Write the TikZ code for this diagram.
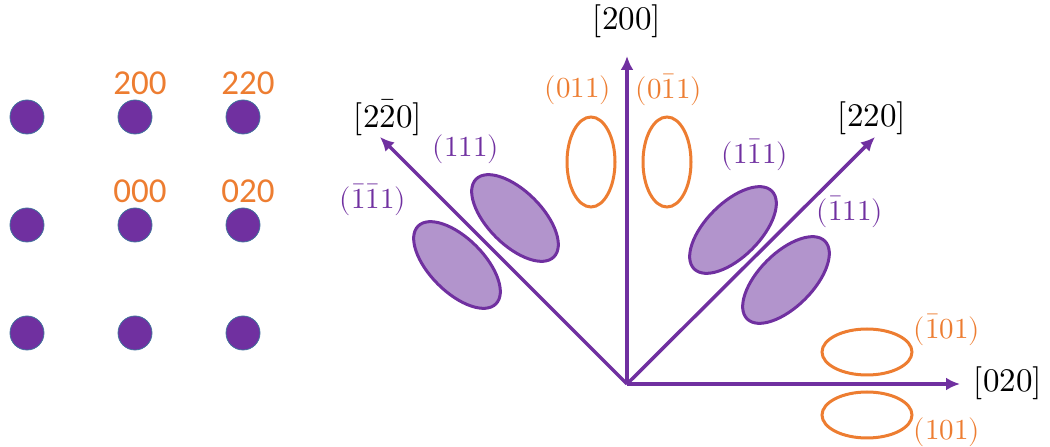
\documentclass[tikz,border=0pt]{standalone}
\usepackage{amsmath}
\usepackage{fontspec}
\usepackage{unicode-math}
\usepackage{tikz}
\usetikzlibrary{arrows.meta}
\usepackage{xcolor}
\newfontfamily\carlito{Carlito}
\definecolor{vio}{HTML}{7030A0}
\definecolor{lvio}{HTML}{B294CC}
\definecolor{ora}{HTML}{ED7D31}
\definecolor{dotrim}{HTML}{41719C}

\begin{document}
\begin{tikzpicture}[x=1pt,y=1pt,
    spot/.style={fill=vio, draw=dotrim, line width=0.8pt},
    axis/.style={vio, line width=3.5pt, -{Latex[length=14pt,width=13pt]}},
    dir/.style={black, font=\fontsize{33}{33}\selectfont},
    hkl/.style={font=\fontsize{29}{29}\selectfont},
    refl/.style={ora, font=\carlito\fontsize{35}{35}\selectfont}]
    \useasboundingbox (0,0) rectangle (1050,447);
    % diffraction spots
    \foreach \x in {27,135,243}
        \foreach \y in {114,222,330}
            \filldraw[spot] (\x,\y) circle (17);
    \node[refl] (s200) at (140,364) {200};
    \node[refl] (s220) at (248,364) {220};
    \node[refl] (s000) at (140,256) {000};
    \node[refl] (s020) at (248,256) {020};
    % axes
    \coordinate (O) at (627,63);
    \coordinate (up) at (627,391);
    \coordinate (rt) at (960,63);
    \coordinate (ul) at (380,310);
    \coordinate (ur) at (875,310);
    \draw[axis] (O) -- (up);
    \draw[axis] (O) -- (rt);
    \draw[axis] (O) -- (ul);
    \draw[axis] (O) -- (ur);
    \node[dir] (d200) at (627,426) {$[200]$};
    \node[dir] (d2m20) at (388,329) {$[2\bar{2}0]$};
    \node[dir] (d220) at (872,329) {$[220]$};
    \node[dir] (d020) at (1008,64) {$[020]$};
    % planes
    \filldraw[vio, fill=lvio, line width=3pt, rotate around={-45:(515,229)}] (515,229) ellipse (55 and 27);
    \filldraw[vio, fill=lvio, line width=3pt, rotate around={-45:(457,182)}] (457,182) ellipse (55 and 27);
    \filldraw[vio, fill=lvio, line width=3pt, rotate around={45:(733,217)}] (733,217) ellipse (55 and 27);
    \filldraw[vio, fill=lvio, line width=3pt, rotate around={45:(786,167)}] (786,167) ellipse (55 and 27);
    \draw[ora, line width=3pt] (591,285) ellipse (24 and 45);
    \draw[ora, line width=3pt] (667,285) ellipse (24 and 45);
    \draw[ora, line width=3pt] (867,95) ellipse (45 and 23);
    \draw[ora, line width=3pt] (867,32) ellipse (45 and 23);
    \node[hkl, ora] (p011) at (578,357) {$(011)$};
    \node[hkl, ora] (p01) at (669,357) {$(0\bar{1}1)$};
    \node[hkl, ora] (pm101) at (947,117) {$(\bar{1}01)$};
    \node[hkl, ora] (p101) at (947,15) {$(101)$};
    \node[hkl, vio] (p111) at (466,298) {$(111)$};
    \node[hkl, vio] (pmm1) at (373,247) {$(\bar{1}\bar{1}1)$};
    \node[hkl, vio] (p1m1) at (755,292) {$(1\bar{1}1)$};
    \node[hkl, vio] (pm11) at (850,235) {$(\bar{1}11)$};
\end{tikzpicture}
\end{document}
